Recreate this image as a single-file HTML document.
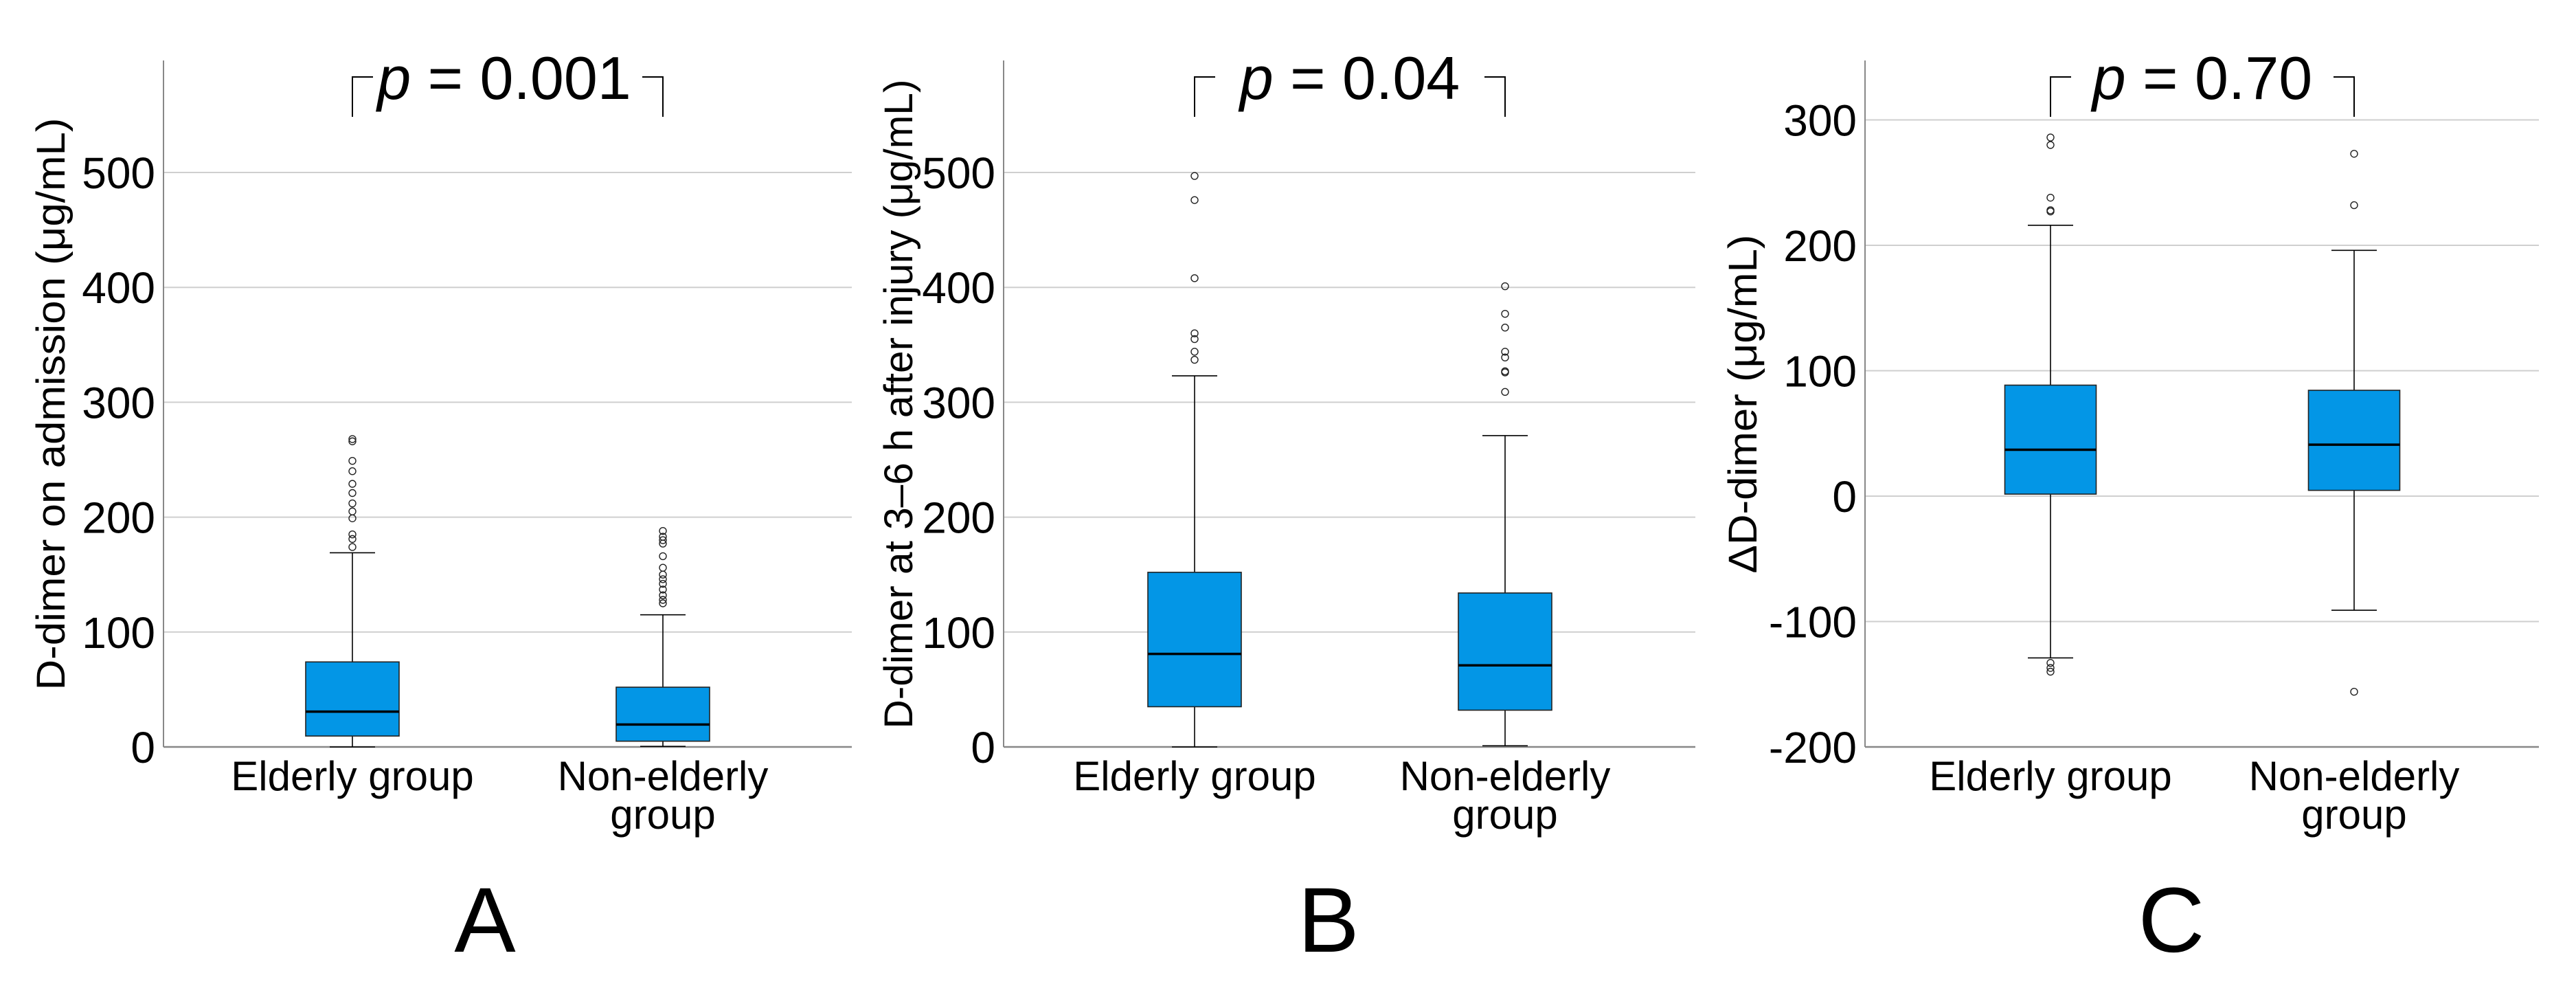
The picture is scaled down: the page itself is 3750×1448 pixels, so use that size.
<!DOCTYPE html>
<html><head><meta charset="utf-8"><style>
html,body{margin:0;padding:0;background:#fff}
svg{display:block}
text{font-family:"Liberation Sans",Arial,sans-serif;fill:#000}
</style></head><body>
<svg id="chart" width="3750" height="1448" viewBox="0 0 3750 1448"></svg>
<script>
const categories = ["Elderly group", "Non-elderly group"];
// [lower whisker, Q1, median, Q3, upper whisker]
const statsA = [[0, 9.5, 30.7, 74, 169], [0.5, 5, 19.5, 52, 115]];
const outliersA = [[268, 266, 249, 240, 229, 221, 212, 205, 199, 185, 181, 174], [188, 183, 180, 177, 166, 156, 150, 146, 142, 137, 132, 128, 125]];
const statsB = [[0, 35, 81, 152, 323], [1, 32, 71, 134, 271]];
const outliersB = [[497, 476, 408, 360, 355, 344, 337], [401, 377, 365, 344, 339, 327, 326, 309]];
const statsC = [[-129, 1.6, 37, 88.5, 216], [-91, 4.6, 41, 84.4, 196]];
const outliersC = [[286, 280, 238, 228, 227, -133, -137, -140], [273, 232, -156]];
const ticksAB = [0, 100, 200, 300, 400, 500];
const ticksC = [-200, -100, 0, 100, 200, 300];
const pLabels = ["0.001", "0.04", "0.70"];
const panelLetters = ["A", "B", "C"];
const yTitles = ["D-dimer on admission (μg/mL)", "D-dimer at 3–6 h after injury (μg/mL)", "ΔD-dimer (μg/mL)"];

const NS = "http://www.w3.org/2000/svg";
const svgRoot = document.getElementById("chart");
function mk(tag, attrs, parent) {
  const e = document.createElementNS(NS, tag);
  for (const k in attrs) e.setAttribute(k, attrs[k]);
  (parent || svgRoot).appendChild(e);
  return e;
}
const panels = [
  {ax: 238, right: 1240, c: [513, 965], min: 0, max: 597.5, ticks: ticksAB, stats: statsA, outs: outliersA, titleX: 94, titleLen: 833, letterX: 706, pX: 734, boxW: 136},
  {ax: 1461, right: 2468, c: [1739, 2191], min: 0, max: 597.5, ticks: ticksAB, stats: statsB, outs: outliersB, titleX: 1328, titleLen: 945, letterX: 1934, pX: 1965, boxW: 136},
  {ax: 2715, right: 3696, c: [2985, 3427], min: -200, max: 347.4, ticks: ticksC, stats: statsC, outs: outliersC, titleX: 2557, titleLen: 493, letterX: 3161, pX: 3206, boxW: 133}
];
const plotTop = 88, plotBottom = 1087;
panels.forEach((p, pi) => {
  const g = mk("g", {});
  
  
  const y = v => plotBottom - (v - p.min) / (p.max - p.min) * (plotBottom - plotTop);
  p.ticks.forEach(t => {
    if (t !== p.min) {
      const gl = mk("line", {x1: p.ax, x2: p.right, y1: y(t), y2: y(t), stroke: "#cfcfcf", "stroke-width": 2}, g);
      
      
    }
    const tl = mk("text", {x: p.ax - 12, y: y(t) + 23, "text-anchor": "end", "font-size": 64}, g);
    tl.textContent = String(t);
    
    
  });
  const ya = mk("line", {x1: p.ax, x2: p.ax, y1: plotTop, y2: plotBottom, stroke: "#888", "stroke-width": 2}, g);
  
  
  const xa = mk("line", {x1: p.ax, x2: p.right, y1: plotBottom, y2: plotBottom, stroke: "#888", "stroke-width": 2.5}, g);
  
  
  const yt = mk("text", {x: 0, y: 0, "text-anchor": "middle", "font-size": 58, textLength: p.titleLen, lengthAdjust: "spacingAndGlyphs", transform: "translate(" + p.titleX + ",588) rotate(-90)"}, g);
  yt.textContent = yTitles[pi];
  
  
  p.stats.forEach((s, i) => {
    const cx = p.c[i], hw = p.boxW / 2, cw = 33;
    const bg = mk("g", {}, g);
    
    
    mk("line", {x1: cx, x2: cx, y1: y(s[0]), y2: y(s[4]), stroke: "#000", "stroke-width": 1.6}, bg);
    mk("line", {x1: cx - cw, x2: cx + cw, y1: y(s[0]), y2: y(s[0]), stroke: "#000", "stroke-width": 1.6}, bg);
    mk("line", {x1: cx - cw, x2: cx + cw, y1: y(s[4]), y2: y(s[4]), stroke: "#000", "stroke-width": 1.6}, bg);
    mk("rect", {x: cx - hw, y: y(s[3]), width: p.boxW, height: y(s[1]) - y(s[3]), fill: "#0396e6", stroke: "#222", "stroke-width": 1.6}, bg);
    mk("line", {x1: cx - hw, x2: cx + hw, y1: y(s[2]), y2: y(s[2]), stroke: "#000", "stroke-width": 3.5}, bg);
    p.outs[i].forEach(o => {
      const c = mk("circle", {cx: cx, cy: y(o), r: 5, fill: "none", stroke: "#222", "stroke-width": 1.4}, bg);
      
      
    });
    const words = categories[i] === "Non-elderly group" ? ["Non-elderly", "group"] : [categories[i]];
    words.forEach((w, li) => {
      const cl = mk("text", {x: cx, y: 1150 + li * 56, "text-anchor": "middle", "font-size": 60}, g);
      cl.textContent = w;
      
      
    });
  });
  const b = mk("path", {d: "M" + p.c[0] + ",170 V112 H" + (p.c[0] + 30) + " M" + (p.c[1] - 30) + ",112 H" + p.c[1] + " V170", fill: "none", stroke: "#000", "stroke-width": 2}, g);
  
  
  const pt = mk("text", {x: p.pX, y: 144, "text-anchor": "middle", "font-size": 88}, g);
  
  
  const ts1 = mk("tspan", {"font-style": "italic"}, pt);
  ts1.textContent = "p";
  const ts2 = mk("tspan", {}, pt);
  ts2.textContent = " = " + pLabels[pi];
  const lt = mk("text", {x: p.letterX, y: 1385, "text-anchor": "middle", "font-size": 134}, g);
  lt.textContent = panelLetters[pi];
  
  
});
</script>
</body></html>
